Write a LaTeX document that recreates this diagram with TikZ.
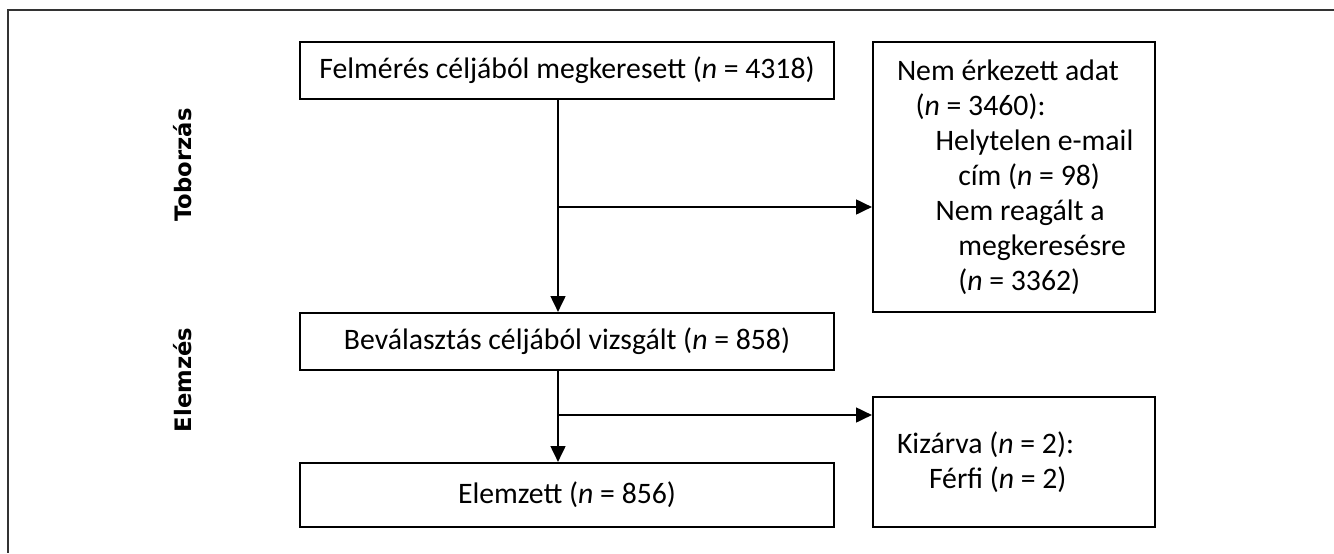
\documentclass[tikz,border=0pt]{standalone}
\usepackage{fontspec}
\setmainfont{Carlito}
\newfontfamily\phasefont{DejaVu Sans}
\usetikzlibrary{arrows.meta,positioning}

\tikzset{
  flowbox/.style={draw, line width=1.5pt, minimum width=400.5pt, minimum height=42.75pt,
    inner sep=0pt, font=\fontsize{22.3}{26.25}\selectfont},
  notebox/.style={draw, line width=1.5pt, text width=175.5pt, inner xsep=18pt, inner ysep=0pt,
    align=flush left, font=\fontsize{22.3}{26.25}\selectfont},
  phase/.style={rotate=90, font=\phasefont\bfseries\fontsize{17}{20}\selectfont},
  flowline/.style={line width=2pt},
  flowarrow/.style={flowline, -{Triangle[length=12pt,width=11pt]}}
}

\begin{document}
\begin{tikzpicture}[x=0.75pt,y=0.75pt,yscale=-1,xscale=1]
  \useasboundingbox (0,0) rectangle (1334,553);

  %Frame
  \draw [line width=1.2pt, black!80] (1334,10) -- (8,10) -- (8,553) ;

  % Phase labels
  \node [phase] (recruitphase) at (183,165) {Toborzás};
  \node [phase] (analysisphase) at (183,380) {Elemzés};

  %Main boxes
  \node [flowbox] (contacted) at (567,70.5) {Felmérés céljából megkeresett (\textit{n} = 4318)};
  \node [flowbox] (screened) at (567,341.5) {Beválasztás céljából vizsgált (\textit{n} = 858)};
  \node [flowbox, minimum height=48pt] (analysed) at (567,495) {Elemzett (\textit{n} = 856)};

  %Side boxes
  \node [notebox, minimum height=202.5pt] (nodata) at (1014,177) {\mbox{Nem érkezett adat}\\
    \hspace*{14pt}\mbox{(\textit{n} = 3460):}\\
    \hspace*{29pt}\mbox{Helytelen e-mail}\\
    \hspace*{46pt}\mbox{cím (\textit{n} = 98)}\\
    \hspace*{29pt}\mbox{Nem reagált a}\\
    \hspace*{46pt}\mbox{megkeresésre}\\
    \hspace*{46pt}\mbox{(\textit{n} = 3362)}};
  \node [notebox, minimum height=97.5pt] (excluded) at (1014,462) {Kizárva (\textit{n} = 2):\\
    \hspace*{24pt}Férfi (\textit{n} = 2)};

  %Branch points
  \coordinate (split1) at (558,207);
  \coordinate (split2) at (558,415);

  %Connectors
  \draw [flowarrow] (split1 |- contacted.south) -- (split1 |- screened.north) ;
  \draw [flowarrow] (split1) -- (split1 -| nodata.west) ;
  \draw [flowarrow] (split2 |- screened.south) -- (split2 |- analysed.north) ;
  \draw [flowarrow] (split2) -- (split2 -| excluded.west) ;
\end{tikzpicture}
\end{document}
